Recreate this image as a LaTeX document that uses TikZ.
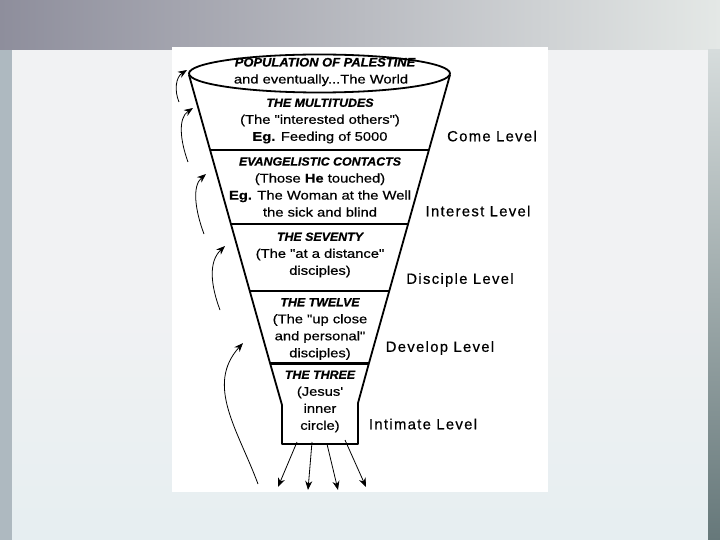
\documentclass[tikz,border=0pt]{standalone}
\usepackage{fontspec}
\setmainfont{Liberation Sans}
\newfontfamily\bodyfont[FakeStretch=1.18,FakeBold=0.5]{Liberation Sans}
\newfontfamily\headfont[FakeStretch=1.05,FakeBold=0.8]{Liberation Sans}
\newfontfamily\levelfont[LetterSpace=9,FakeBold=0.6]{Liberation Sans}
\usetikzlibrary{arrows.meta}

\definecolor{bandleft}{HTML}{8E8E9C}
\definecolor{bandright}{HTML}{E4E8E6}
\definecolor{slidebg}{HTML}{F1F2F3}
\definecolor{slidelow}{HTML}{E6EEF1}
\definecolor{edgeleft}{HTML}{AEB9C0}
\definecolor{edgetop}{HTML}{D6DCDC}
\definecolor{edgeright}{HTML}{66787A}

\newcommand{\grouphead}[2][11.8]{{\headfont\bfseries\itshape\fontsize{#1}{17}\selectfont #2}}

\begin{document}
\begin{tikzpicture}[x=1pt,y=-1pt,
    group/.style={align=center,font=\bodyfont\fontsize{12.5}{17}\selectfont,inner sep=0pt},
    level/.style={font=\levelfont\fontsize{14.8}{16}\selectfont,inner sep=0pt},
    rim/.style={line width=1.8pt},
    reach/.style={line width=0.8pt,-{Stealth[length=9pt,width=7pt]}}]

    \useasboundingbox (0,0) rectangle (720,540);

    % Slide background
    \fill[slidebg] (0,0) rectangle (720,540);
    \shade[left color=bandleft, right color=bandright] (0,0) rectangle (720,50);
    \shade[top color=slidebg, bottom color=slidelow] (12,300) rectangle (708,540);
    \fill[edgeleft] (0,50) rectangle (12,540);
    \shade[top color=edgetop, bottom color=edgeright] (708,50) rectangle (720,540);

    % White panel
    \fill[white] (172,47) rectangle (548,492);

    % Funnel sides and box
    \draw[rim, line join=round] (189,75) -- (270,363) -- (282,405) -- (282,444) -- (358,444) -- (358,403) -- (369,363) -- (450,75);

    % Rim of the funnel
    \draw[rim, fill=white] (319.5,73.5) ellipse [x radius=130.5pt, y radius=19pt];

    % Separating lines
    \draw[rim] (210,150) -- (429,150);
    \draw[rim] (231,224) -- (408,224);
    \draw[rim] (250,291) -- (389,291);
    \draw[line width=3pt] (270,363) -- (369,363);

    % Texts in the funnel
    \node[group] (world) at (321,72) {\hspace*{8pt}\grouphead[12.3]{POPULATION OF PALESTINE}\\ and eventually...The World};
    \node[group] (multitudes) at (320,121) {\grouphead{THE MULTITUDES}\\ (The "interested others")\\ {\bfseries Eg.} Feeding of 5000};
    \node[group] (contacts) at (320,187) {\grouphead{EVANGELISTIC CONTACTS}\\ (Those {\bfseries He} touched)\\ {\bfseries Eg.} The Woman at the Well\\ the sick and blind};
    \node[group] (seventy) at (320,255) {\grouphead{THE SEVENTY}\\ (The "at a distance"\\ disciples)};
    \node[group] (twelve) at (320,329) {\grouphead{THE TWELVE}\\ (The "up close\\ and personal"\\ disciples)};
    \node[group] (three) at (320,401.5) {\grouphead{THE THREE}\\ (Jesus'\\ inner\\ circle)};

    % Levels
    \node[level] (come) at (492,136) {Come Level};
    \node[level] (interest) at (478,211) {Interest Level};
    \node[level] (disciple) at (460,280) {Disciple Level};
    \node[level] (develop) at (440,348) {Develop Level};
    \node[level] (intimate) at (423,424) {Intimate Level};

    % Arrows going up the funnel
    \coordinate (t1) at (179,102); \coordinate (h1) at (187,70);
    \coordinate (t2) at (188,162); \coordinate (h2) at (193,108);
    \coordinate (t3) at (204,234); \coordinate (h3) at (206,174);
    \coordinate (t4) at (220,310); \coordinate (h4) at (225,246);
    \coordinate (t5) at (258,484); \coordinate (h5) at (243,343);
    \draw[reach] (t1) .. controls (174,90) and (176,77) .. (h1);
    \draw[reach] (t2) .. controls (180,140) and (178,118) .. (h2);
    \draw[reach] (t3) .. controls (195,210) and (192,186) .. (h3);
    \draw[reach] (t4) .. controls (211,286) and (208,262) .. (h4);
    \draw[reach] (t5) .. controls (238,430) and (205,385) .. (h5);

    % Arrows going out of the box
    \coordinate (o1) at (297,442); \coordinate (e1) at (278,487);
    \coordinate (o2) at (312,442); \coordinate (e2) at (308,490);
    \coordinate (o3) at (327,444); \coordinate (e3) at (338,490);
    \coordinate (o4) at (345,440); \coordinate (e4) at (366,487);
    \foreach \i in {1,...,4}
        \draw[reach] (o\i) -- (e\i);
\end{tikzpicture}
\end{document}
